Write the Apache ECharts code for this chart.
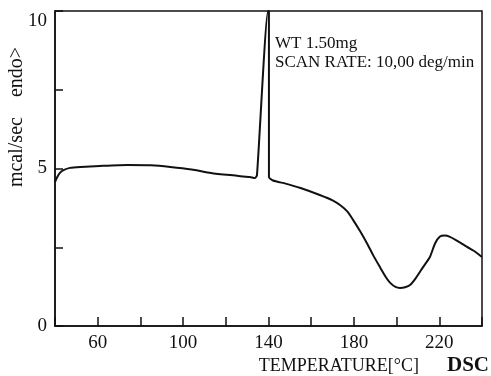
<!DOCTYPE html>
<html>
<head>
<meta charset="utf-8">
<script src="https://cdn.jsdelivr.net/npm/echarts@6/dist/echarts.min.js"></script>
<style>
html,body{margin:0;padding:0;background:#fff;}
#chart{width:491px;height:376px;}
</style>
</head>
<body>
<div id="chart"></div>
<script>
// Temperature (°C) and heat flow (mcal/sec)
var temperature = [40, 41, 42.3, 44, 47, 52, 61, 74, 85, 94, 104, 113, 122, 131.3, 133.7, 134.6, 139.8, 140.2, 140.2, 142.1, 148, 155, 164, 170, 173.5, 177, 179.6, 183, 186.1, 189, 192.2, 195, 197, 199.5, 201.6, 204, 206.3, 209, 212.4, 215.6, 218, 220.3, 222.5, 225, 229, 233, 237, 240];
var heatFlow = [4.57, 4.72, 4.86, 4.95, 5.02, 5.05, 5.08, 5.11, 5.10, 5.05, 4.97, 4.86, 4.79, 4.73, 4.70, 4.79, 10, 10, 4.73, 4.62, 4.52, 4.38, 4.16, 3.99, 3.84, 3.63, 3.37, 3.00, 2.63, 2.25, 1.87, 1.55, 1.37, 1.24, 1.21, 1.23, 1.30, 1.52, 1.87, 2.19, 2.62, 2.84, 2.87, 2.83, 2.68, 2.51, 2.35, 2.19];
var xTickLabels = [60, 100, 140, 180, 220];
var yTickLabels = [0, 5, 10];
var annotationLines = ['WT 1.50mg', 'SCAN RATE: 10,00 deg/min'];
var yAxisTitle = 'mcal/sec    endo>';
var xAxisTitle = 'TEMPERATURE[\u00B0C]';
var instrumentLabel = 'DSC';

var pts = temperature.map(function (t, i) { return [t, heatFlow[i]]; });
var serif = '"Liberation Serif", "DejaVu Serif", serif';

var chart = echarts.init(document.getElementById('chart'));
chart.setOption({
  animation: false,
  backgroundColor: '#fff',
  grid: { left: 55, right: 9, top: 11, bottom: 50, show: true, borderColor: '#111', borderWidth: 1.5, backgroundColor: 'transparent' },
  xAxis: {
    type: 'value', min: 40, max: 240, interval: 20,
    axisLine: { lineStyle: { color: '#111', width: 1.5 } },
    axisTick: { inside: true, length: 9, lineStyle: { color: '#111', width: 1.5 } },
    splitLine: { show: false },
    axisLabel: {
      color: '#111', fontFamily: serif, fontSize: 19, margin: 8,
      formatter: function (v) { return xTickLabels.indexOf(v) >= 0 ? String(v) : ''; }
    }
  },
  yAxis: {
    type: 'value', min: 0, max: 10, interval: 2.5,
    axisLine: { lineStyle: { color: '#111', width: 1.5 } },
    axisTick: { inside: true, length: 8, lineStyle: { color: '#111', width: 1.5 } },
    splitLine: { show: false },
    axisLabel: {
      color: '#111', fontFamily: serif, fontSize: 19, margin: 8,
      formatter: function (v) {
        if (v === 10) return '{top|10}';
        return yTickLabels.indexOf(v) >= 0 ? String(v) : '';
      },
      rich: { top: { fontFamily: serif, fontSize: 19, color: '#111', padding: [20, 0, 0, 0] } }
    }
  },
  series: [{
    type: 'line', data: pts, showSymbol: false, smooth: 0.2,
    lineStyle: { color: '#111', width: 2 }, clip: true
  }],
  graphic: [
    { type: 'text', x: 17, y: 117, rotation: Math.PI / 2,
      style: { text: yAxisTitle, font: '20px ' + serif, fill: '#111', align: 'center', verticalAlign: 'middle' } },
    { type: 'text', x: 275, y: 44,
      style: { text: annotationLines[0], font: '17px ' + serif, fill: '#111', align: 'left', verticalAlign: 'middle' } },
    { type: 'text', x: 275, y: 63,
      style: { text: annotationLines[1], font: '17px ' + serif, fill: '#111', align: 'left', verticalAlign: 'middle' } },
    { type: 'text', x: 419, y: 366,
      style: { text: xAxisTitle, font: '18px ' + serif, fill: '#111', align: 'right', verticalAlign: 'middle' } },
    { type: 'text', x: 489, y: 366,
      style: { text: instrumentLabel, font: 'bold 21px ' + serif, fill: '#111', align: 'right', verticalAlign: 'middle' } }
  ]
});
</script>
</body>
</html>
